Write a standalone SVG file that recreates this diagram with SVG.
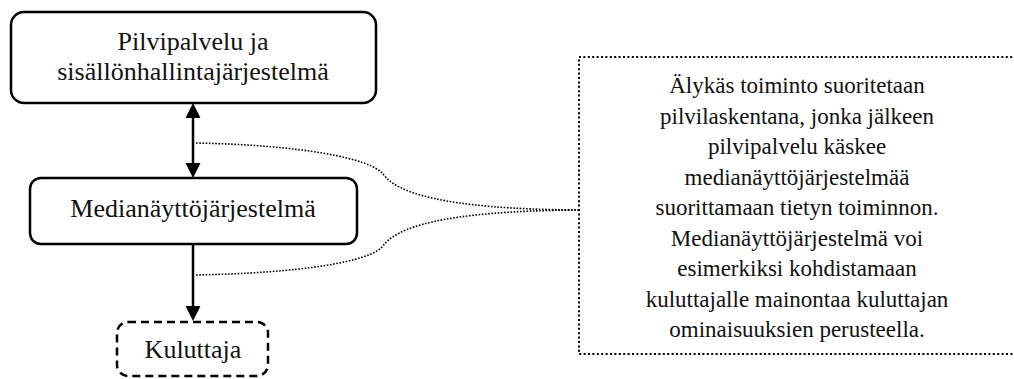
<svg xmlns="http://www.w3.org/2000/svg" width="1014" height="379" viewBox="0 0 1014 379">
  <!-- connectors: solid flow arrows and dotted leader lines to the note -->
  <g id="connectors">
    <g stroke="#000" stroke-width="2.5" fill="none">
      <line x1="193" y1="116" x2="193" y2="166"/>
      <line x1="193" y1="245" x2="193" y2="308"/>
    </g>
    <g fill="#000">
      <polygon points="193,103 185.5,118 200.5,118"/>
      <polygon points="193,178 185.5,163 200.5,163"/>
      <polygon points="193,321 185.5,306 200.5,306"/>
    </g>
    <g stroke="#000" stroke-width="1.6" stroke-dasharray="1.6 1.6" fill="none">
      <path d="M196,143 C300,145 370,158 383,174 C396,192 440,209 578,210"/>
      <path d="M196,275 C300,273 370,262 383,246 C396,228 440,211 578,210"/>
    </g>
  </g>

  <g id="cloud">
    <rect x="11" y="12" width="365" height="91" rx="13" fill="#fff" stroke="#000" stroke-width="2.5"/>
    <text font-family="Liberation Serif" font-size="26" fill="#111" text-anchor="middle" x="193" y="50">Pilvipalvelu ja</text>
    <text font-family="Liberation Serif" font-size="26" fill="#111" text-anchor="middle" x="193" y="80">sisällönhallintajärjestelmä</text>
  </g>

  <g id="media">
    <rect x="30" y="178" width="327" height="66" rx="11" fill="#fff" stroke="#000" stroke-width="2.5"/>
    <text font-family="Liberation Serif" font-size="26" fill="#111" text-anchor="middle" x="193" y="217">Medianäyttöjärjestelmä</text>
  </g>

  <g id="consumer">
    <rect x="117" y="322" width="151" height="54" rx="11" fill="#fff" stroke="#000" stroke-width="2.5" stroke-dasharray="8 5"/>
    <text font-family="Liberation Serif" font-size="26" fill="#111" text-anchor="middle" x="193" y="358">Kuluttaja</text>
  </g>

  <g id="note">
    <rect x="579" y="57" width="440" height="297" fill="#fff" stroke="#000" stroke-width="2" stroke-dasharray="2 2.4"/>
    <g font-family="Liberation Serif" font-size="23" fill="#111" text-anchor="middle">
      <text x="797" y="93">Älykäs toiminto suoritetaan</text>
      <text x="797" y="123.5">pilvilaskentana, jonka jälkeen</text>
      <text x="797" y="154">pilvipalvelu käskee</text>
      <text x="797" y="184.5">medianäyttöjärjestelmää</text>
      <text x="797" y="215">suorittamaan tietyn toiminnon.</text>
      <text x="797" y="245.5">Medianäyttöjärjestelmä voi</text>
      <text x="797" y="276">esimerkiksi kohdistamaan</text>
      <text x="797" y="306.5">kuluttajalle mainontaa kuluttajan</text>
      <text x="797" y="337">ominaisuuksien perusteella.</text>
    </g>
  </g>
</svg>
